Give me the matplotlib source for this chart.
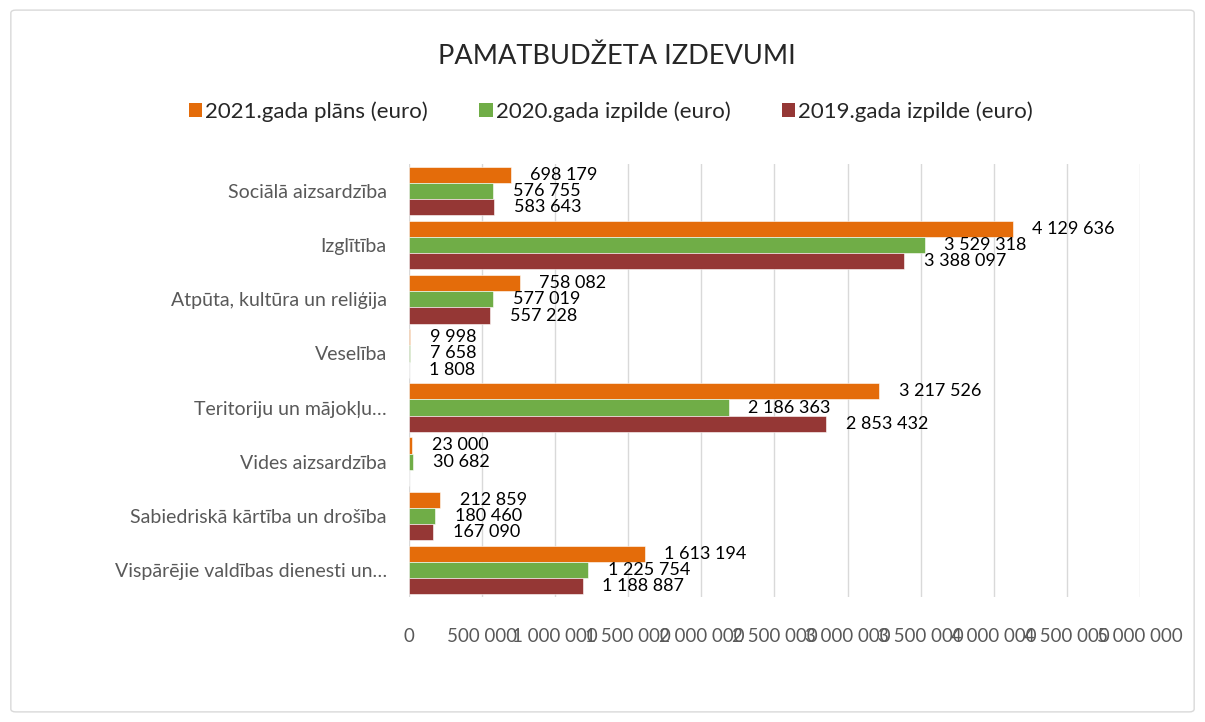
import numpy as np
import matplotlib.pyplot as plt
from matplotlib.patches import FancyBboxPatch, Patch

# ---------------------------------------------------------------------------
# Data
# ---------------------------------------------------------------------------
categories = [
    "Sociālā aizsardzība",
    "Izglītība",
    "Atpūta, kultūra un reliģija",
    "Veselība",
    "Teritoriju un mājokļu…",
    "Vides aizsardzība",
    "Sabiedriskā kārtība un drošība",
    "Vispārējie valdības dienesti un…",
]

plan_2021 = [698179, 4129636, 758082, 9998, 3217526, 23000, 212859, 1613194]
exec_2020 = [576755, 3529318, 577019, 7658, 2186363, 30682, 180460, 1225754]
exec_2019 = [583643, 3388097, 557228, 1808, 2853432, np.nan, 167090, 1188887]

series_names = ["2021.gada plāns (euro)", "2020.gada izpilde (euro)", "2019.gada izpilde (euro)"]
colors = ["#E46C0A", "#70AD47", "#953735"]

x_ticks = np.arange(0, 5000001, 500000)

# ---------------------------------------------------------------------------
# Plot
# ---------------------------------------------------------------------------
plt.rcParams['font.family'] = ['Lato', 'DejaVu Sans']

fig = plt.figure(figsize=(12.05, 7.22), dpi=100)
fig.patches.append(FancyBboxPatch((0.009, 0.014), 0.982, 0.972,
                                  boxstyle="round,pad=0,rounding_size=0.004",
                                  transform=fig.transFigure, facecolor='none',
                                  edgecolor='#D9D9D9', linewidth=1.0))

ax = fig.add_axes([0.3394, 0.173, 0.6066, 0.600])
ax.patch.set_alpha(0)

y = np.arange(len(categories))
h = 0.3
all_series = [plan_2021, exec_2020, exec_2019]
offsets = [-h, 0, h]

def fmt(v):
    return f"{int(v):,}".replace(",", " ")

for vals, off, col in zip(all_series, offsets, colors):
    vals = np.array(vals, dtype=float)
    ax.barh(y + off, np.nan_to_num(vals), height=h, color=col,
            edgecolor='white', linewidth=0.4, zorder=3)
    for yi, v in zip(y + off, vals):
        if np.isnan(v):
            continue
        ax.annotate(fmt(v), xy=(v, yi), xytext=(14, 0), textcoords='offset points',
                    ha='left', va='center', fontsize=13, color='black', zorder=4)

ax.set_ylim(7.5, -0.5)
ax.set_xlim(0, 5000000)
ax.set_yticks(y)
ax.set_yticklabels(categories, fontsize=14, color='#595959')
ax.set_xticks(x_ticks)
ax.set_xticklabels([fmt(t) for t in x_ticks], fontsize=13.5, color='#595959')
ax.tick_params(axis='both', length=0)
ax.tick_params(axis='y', pad=16)
ax.tick_params(axis='x', pad=22)
ax.grid(axis='x', color='#D9D9D9', linewidth=1.0, zorder=0)
for s in ax.spines.values():
    s.set_visible(False)

fig.text(0.512, 0.922, "PAMATBUDŽETA IZDEVUMI", ha='center', va='center',
         fontsize=19.5, color='#262626')

handles = [Patch(facecolor=c, edgecolor='none') for c in colors]
fig.legend(handles, series_names, loc='center', bbox_to_anchor=(0.507, 0.845),
           ncol=3, frameon=False, fontsize=16, handlelength=0.6, handleheight=0.6,
           handletextpad=0.15, columnspacing=2.3, labelcolor='#262626')

plt.savefig('out.png', dpi=100)
